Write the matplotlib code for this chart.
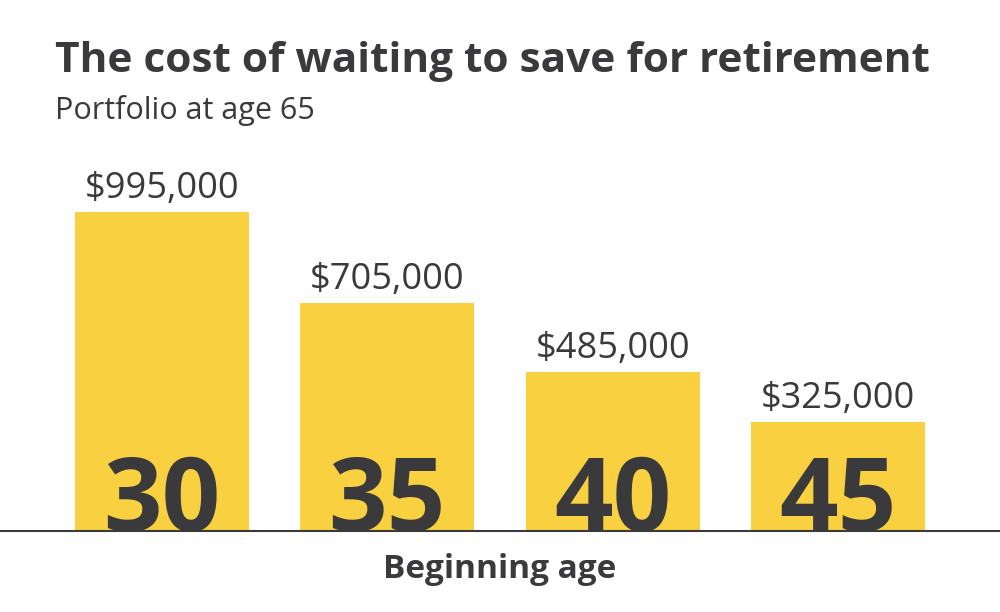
import matplotlib.pyplot as plt
from matplotlib.lines import Line2D

# data
ages = ["30", "35", "40", "45"]
portfolio = [995000, 705000, 485000, 325000]
value_labels = ["$995,000", "$705,000", "$485,000", "$325,000"]

YELLOW = "#F9D03F"
DARK = "#3A3A3C"
plt.rcParams["font.family"] = ["Open Sans", "DejaVu Sans"]

fig = plt.figure(figsize=(10, 6.12), dpi=100)
fig.patch.set_facecolor("white")

# axes: x from 75px to 925px, baseline at 531px from top
ax = fig.add_axes([0.075, 81 / 612, 0.85, 381 / 612])
y_low = -22000
x = list(range(len(ages)))
ax.bar(x, [v - y_low for v in portfolio], bottom=y_low, width=0.77,
       color=YELLOW, zorder=1)
ax.set_xlim(-0.385, 3.385)
ax.set_ylim(y_low, y_low + (995000 - y_low) * 381 / 319)
ax.axis("off")

for xi, v, lab, age in zip(x, portfolio, value_labels, ages):
    ax.text(xi, v + 16000, lab, ha="center", va="bottom", fontsize=26, color=DARK)
    ax.text(xi, y_low, age, ha="center", va="baseline", fontsize=74,
            fontweight="bold", color=DARK, zorder=2)

fig.add_artist(Line2D([0, 1], [81 / 612, 81 / 612], color=DARK, lw=1.5,
                      transform=fig.transFigure))

fig.text(0.055, 1 - 62 / 612, "The cost of waiting to save for retirement",
         fontsize=30.5, fontweight="bold", color=DARK, va="center")
fig.text(0.055, 1 - 110 / 612, "Portfolio at age 65", fontsize=22,
         color=DARK, va="center")
fig.text(0.5, 1 - 569 / 612, "Beginning age", fontsize=24, fontweight="bold",
         color=DARK, ha="center", va="center")

fig.savefig("out.png", dpi=100)
